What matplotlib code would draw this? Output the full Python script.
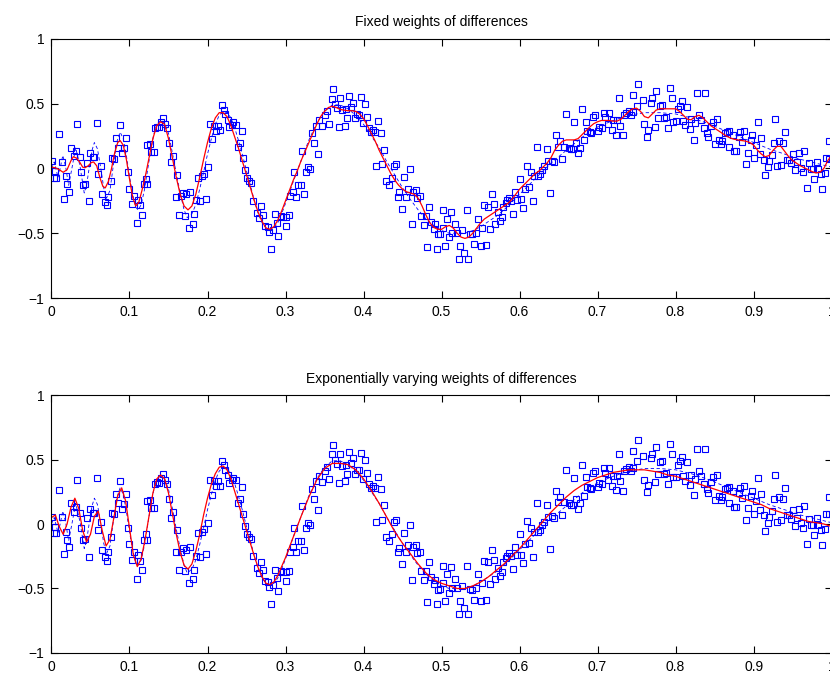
import numpy as np
import matplotlib
matplotlib.use("Agg")
import matplotlib.pyplot as plt

plt.rcParams["font.family"] = ["Liberation Sans", "DejaVu Sans"]
plt.rcParams["font.size"] = 10

# noisy observations (same in both panels)
obs_x = [
    0.001, 0.004, 0.003, 0.006, 0.010, 0.013, 0.016, 0.019, 0.020, 0.023, 0.025, 0.029, 0.031, 0.033,
    0.036, 0.038, 0.040, 0.043, 0.046, 0.048, 0.050, 0.053, 0.055, 0.058, 0.060, 0.063, 0.065, 0.068,
    0.071, 0.073, 0.076, 0.078, 0.080, 0.083, 0.085, 0.088, 0.091, 0.093, 0.096, 0.098, 0.100, 0.103,
    0.106, 0.109, 0.111, 0.113, 0.116, 0.119, 0.122, 0.123,
    0.121, 0.126, 0.128, 0.131, 0.133, 0.135, 0.138, 0.141, 0.143, 0.146, 0.148, 0.151, 0.153, 0.156,
    0.161, 0.159, 0.163, 0.166, 0.168, 0.171, 0.173, 0.178, 0.176, 0.181, 0.183, 0.185, 0.191, 0.198,
    0.188, 0.193, 0.195, 0.201, 0.203, 0.206, 0.208, 0.211, 0.213, 0.216, 0.218, 0.221, 0.223, 0.226,
    0.228, 0.231, 0.233, 0.236, 0.239, 0.242, 0.244, 0.245, 0.248,
    0.251, 0.253, 0.256, 0.258, 0.263, 0.266, 0.269, 0.271, 0.274, 0.277, 0.279, 0.281, 0.284, 0.286,
    0.289, 0.291, 0.294, 0.297, 0.300, 0.301, 0.304, 0.306, 0.309, 0.311, 0.314, 0.316, 0.320, 0.321,
    0.324, 0.326, 0.329, 0.332, 0.334, 0.336, 0.339, 0.341, 0.343, 0.347, 0.350, 0.353, 0.356, 0.359,
    0.361, 0.364, 0.366, 0.369, 0.370, 0.372,
    0.377, 0.379, 0.376, 0.382, 0.384, 0.387, 0.389, 0.392, 0.394, 0.397, 0.399, 0.402, 0.404, 0.407,
    0.410, 0.412, 0.415, 0.419, 0.422, 0.426, 0.416, 0.424, 0.429, 0.432, 0.437, 0.439, 0.441, 0.444,
    0.446, 0.449, 0.452, 0.455, 0.457, 0.459, 0.462, 0.464, 0.467, 0.469, 0.472, 0.474, 0.477, 0.480,
    0.484, 0.481, 0.487, 0.490, 0.492, 0.496, 0.494,
    0.498, 0.502, 0.502, 0.505, 0.507, 0.509, 0.512, 0.514, 0.517, 0.520, 0.522, 0.524, 0.526, 0.529,
    0.532, 0.534, 0.537, 0.539, 0.542, 0.544, 0.547, 0.550, 0.552, 0.555, 0.559, 0.557, 0.562, 0.565,
    0.567, 0.569, 0.572, 0.575, 0.577, 0.579, 0.582, 0.584, 0.587, 0.589, 0.592, 0.594, 0.597, 0.600,
    0.602, 0.604, 0.607, 0.609, 0.612, 0.615, 0.617, 0.619, 0.622,
    0.624, 0.626, 0.629, 0.631, 0.635, 0.637, 0.639, 0.642, 0.644, 0.647, 0.649, 0.652, 0.654, 0.657,
    0.660, 0.663, 0.666, 0.668, 0.670, 0.672, 0.675, 0.677, 0.680, 0.682, 0.685, 0.687, 0.690, 0.692,
    0.694, 0.697, 0.700, 0.702, 0.705, 0.708, 0.710, 0.713, 0.715, 0.718, 0.720, 0.723, 0.725, 0.727,
    0.729, 0.732, 0.734, 0.737, 0.740, 0.743, 0.746,
    0.745, 0.750, 0.752, 0.758, 0.760, 0.763, 0.765, 0.768, 0.770, 0.773, 0.775, 0.777, 0.780, 0.783,
    0.785, 0.788, 0.790, 0.793, 0.795, 0.797, 0.800, 0.803, 0.806, 0.808, 0.810, 0.812, 0.815, 0.818,
    0.820, 0.823, 0.825, 0.828, 0.830, 0.833, 0.836, 0.838, 0.840, 0.842, 0.845, 0.848, 0.850, 0.853,
    0.855, 0.858, 0.860, 0.863, 0.866, 0.868, 0.869,
    0.873, 0.875, 0.878, 0.881, 0.883, 0.888, 0.885, 0.890, 0.893, 0.896, 0.898, 0.900, 0.903, 0.905,
    0.908, 0.910, 0.913, 0.915, 0.918, 0.920, 0.923, 0.926, 0.928, 0.930, 0.933, 0.935, 0.938, 0.940,
    0.943, 0.945, 0.948, 0.950, 0.953, 0.955, 0.958, 0.961, 0.963, 0.965, 0.968, 0.971, 0.973, 0.976,
    0.978, 0.981, 0.983, 0.986, 0.988, 0.991, 0.993, 0.996, 0.997,
]
obs_y = [
    0.056, -0.023, -0.072, -0.072, 0.267, 0.051, -0.233, -0.061, -0.123, -0.182, 0.159, 0.092, 0.133, 0.344,
    0.087, -0.031, -0.126, -0.118, 0.044, -0.254, 0.118, 0.087, 0.087, 0.354, -0.046, 0.015, -0.200, -0.259,
    -0.284, -0.220, -0.100, 0.082, 0.074, 0.233, 0.159, 0.336, 0.118, 0.154, 0.231, -0.028, -0.156, -0.277,
    -0.215, -0.423, -0.241, -0.284, -0.356, -0.123, -0.123, 0.177,
    -0.079, 0.185, 0.126, 0.126, 0.313, 0.323, 0.318, 0.356, 0.390, 0.344, 0.313, 0.195, 0.049, 0.092,
    -0.049, -0.220, -0.356, -0.215, -0.187, -0.367, -0.200, -0.182, -0.456, -0.428, -0.354, -0.246, -0.254, -0.236,
    -0.072, -0.061, -0.041, 0.010, 0.344, 0.228, 0.331, 0.292, 0.331, 0.297, 0.492, 0.454, 0.420, 0.377,
    0.318, 0.338, 0.356, 0.338, 0.164, 0.195, 0.287, 0.080, -0.015,
    -0.074, -0.100, -0.113, -0.251, -0.344, -0.379, -0.292, -0.356, -0.444, -0.451, -0.490, -0.618, -0.472, -0.354,
    -0.420, -0.520, -0.367, -0.374, -0.374, -0.444, -0.361, -0.215, -0.182, -0.028, -0.220, -0.131, -0.131, 0.138,
    -0.200, -0.031, 0.010, -0.005, 0.274, 0.195, 0.331, 0.108, 0.374, 0.328, 0.413, 0.441, 0.346, 0.539,
    0.613, 0.497, 0.467, 0.318, 0.544, 0.451,
    0.459, 0.387, 0.331, 0.562, 0.472, 0.508, 0.387, 0.420, 0.415, 0.549, 0.351, 0.495, 0.395, 0.310,
    0.280, 0.297, 0.282, 0.364, 0.274, 0.144, 0.015, 0.031, -0.100, -0.131, -0.074, 0.018, 0.031, -0.220,
    -0.185, -0.310, -0.067, -0.220, -0.161, -0.008, -0.431, -0.182, -0.164, -0.226, -0.215, -0.367, -0.433, -0.367,
    -0.297, -0.605, -0.413, -0.469, -0.431, -0.508, -0.623,
    -0.503, -0.456, -0.323, -0.597, -0.387, -0.533, -0.336, -0.495, -0.426, -0.497, -0.697, -0.597, -0.477, -0.649,
    -0.323, -0.700, -0.503, -0.508, -0.587, -0.497, -0.387, -0.597, -0.456, -0.284, -0.297, -0.592, -0.469, -0.200,
    -0.277, -0.426, -0.338, -0.405, -0.374, -0.297, -0.264, -0.246, -0.228, -0.251, -0.349, -0.182, -0.241, -0.079,
    -0.238, -0.305, -0.156, 0.021, -0.146, -0.031, -0.254, -0.059, 0.164,
    -0.061, -0.046, -0.010, 0.018, 0.151, 0.056, -0.192, 0.061, 0.049, 0.259, 0.169, 0.208, 0.069, 0.167,
    0.418, 0.159, 0.149, 0.151, 0.356, 0.195, 0.118, 0.159, 0.456, 0.220, 0.361, 0.285, 0.280, 0.274,
    0.395, 0.410, 0.287, 0.321, 0.313, 0.431, 0.395, 0.344, 0.431, 0.297, 0.374, 0.261, 0.374, 0.541,
    0.331, 0.259, 0.413, 0.428, 0.441, 0.413, 0.569,
    0.433, 0.485, 0.651, 0.531, 0.344, 0.246, 0.300, 0.508, 0.541, 0.323, 0.595, 0.387, 0.480, 0.490,
    0.387, 0.395, 0.313, 0.618, 0.541, 0.361, 0.364, 0.459, 0.485, 0.523, 0.369, 0.336, 0.477, 0.305,
    0.382, 0.223, 0.349, 0.582, 0.413, 0.374, 0.308, 0.582, 0.272, 0.241, 0.328, 0.361, 0.185, 0.382,
    0.220, 0.185, 0.208, 0.272, 0.280, 0.285, 0.164,
    0.254, 0.131, 0.131, 0.241, 0.280, 0.292, 0.200, 0.033, 0.121, 0.220, 0.259, 0.080, 0.177, 0.356,
    0.108, 0.233, 0.067, -0.054, 0.010, 0.056, 0.100, 0.195, 0.380, 0.015, 0.208, 0.028, 0.195, 0.280,
    0.067, 0.067, 0.041, 0.108, -0.015, 0.049, 0.118, 0.005, -0.031, 0.138, -0.154, 0.041, -0.005, -0.005,
    -0.084, 0.049, -0.005, -0.046, -0.161, -0.036, 0.080, 0.208, 0.074,
]

# underlying signal (dashed)
true_x = [
    0.000, 0.0035, 0.006, 0.0085, 0.0115, 0.0145, 0.018, 0.022, 0.0265, 0.031, 0.0365, 0.042, 0.045,
    0.0485, 0.052, 0.055, 0.059, 0.063, 0.067, 0.0705, 0.075, 0.079, 0.0835, 0.088, 0.092, 0.096,
    0.100, 0.104, 0.108, 0.111, 0.115, 0.119, 0.123, 0.127, 0.131, 0.135, 0.140, 0.145, 0.150,
    0.155, 0.160, 0.165, 0.170, 0.174, 0.180, 0.185, 0.190, 0.195,
    0.200, 0.205, 0.210, 0.215, 0.220, 0.225, 0.230, 0.235, 0.240, 0.245, 0.250, 0.255, 0.260, 0.265,
    0.270, 0.275, 0.280, 0.285, 0.290, 0.295, 0.300, 0.310, 0.320, 0.330, 0.340, 0.350, 0.360, 0.370,
    0.380, 0.390, 0.400, 0.410, 0.420, 0.430, 0.440, 0.450, 0.460, 0.470, 0.480, 0.490, 0.500, 0.510,
    0.520, 0.530, 0.540, 0.550, 0.560, 0.570, 0.580, 0.590, 0.600, 0.620, 0.640, 0.660, 0.680, 0.700,
    0.720, 0.740, 0.760, 0.780, 0.800, 0.820, 0.840, 0.860, 0.880, 0.900, 0.920, 0.940, 0.960, 0.980,
    1.000,
]
true_y = [
    0.00, 0.05, -0.01, -0.07, 0.01, 0.10, 0.02, -0.13, 0.01, 0.16, 0.02, -0.19, -0.13,
    0.01, 0.14, 0.20, 0.15, 0.01, -0.15, -0.23, -0.17, 0.01, 0.20, 0.28, 0.23, 0.10,
    -0.06, -0.20, -0.30, -0.32, -0.28, -0.17, -0.02, 0.13, 0.26, 0.34, 0.37, 0.35, 0.27,
    0.12, -0.04, -0.19, -0.32, -0.38, -0.35, -0.28, -0.16, -0.03,
    0.11, 0.23, 0.34, 0.41, 0.44, 0.43, 0.39, 0.31, 0.21, 0.10, -0.02, -0.13, -0.25, -0.35,
    -0.42, -0.46, -0.47, -0.46, -0.42, -0.35, -0.27, -0.10, 0.06, 0.22, 0.35, 0.44, 0.49, 0.49,
    0.46, 0.41, 0.34, 0.25, 0.16, 0.05, -0.05, -0.15, -0.24, -0.32, -0.39, -0.44, -0.48, -0.50,
    -0.50, -0.50, -0.48, -0.45, -0.41, -0.37, -0.32, -0.26, -0.20, -0.08, 0.04, 0.14, 0.24, 0.32,
    0.37, 0.41, 0.43, 0.43, 0.42, 0.39, 0.35, 0.30, 0.25, 0.20, 0.15, 0.11, 0.07, 0.04,
    0.01,
]

# estimate with fixed weights of differences
fit1_x = [
    0.000, 0.005, 0.010, 0.015, 0.020, 0.025, 0.028, 0.032, 0.036, 0.040, 0.043, 0.047, 0.051, 0.054,
    0.058, 0.062, 0.066, 0.069, 0.073, 0.077, 0.081, 0.085, 0.088, 0.092, 0.096, 0.100, 0.104, 0.108,
    0.112, 0.116, 0.120, 0.125, 0.130, 0.135, 0.140, 0.145, 0.150, 0.155, 0.160, 0.165, 0.170, 0.175,
    0.180, 0.185, 0.190, 0.195, 0.200, 0.205, 0.210, 0.215, 0.220, 0.225, 0.230, 0.235, 0.240, 0.245,
    0.250, 0.255, 0.260, 0.265, 0.270, 0.275, 0.280, 0.285, 0.290, 0.295, 0.300, 0.305, 0.310, 0.315,
    0.320, 0.325, 0.330, 0.335, 0.340, 0.345, 0.350, 0.355, 0.360, 0.365, 0.370, 0.375, 0.380, 0.385,
    0.390, 0.395, 0.400, 0.405, 0.410, 0.415, 0.420, 0.425, 0.430, 0.435, 0.440, 0.445, 0.450, 0.455,
    0.460, 0.465, 0.470, 0.475, 0.480, 0.485, 0.490, 0.495, 0.500, 0.505, 0.510, 0.515, 0.520, 0.525,
    0.530, 0.535, 0.540, 0.545, 0.550, 0.555, 0.560, 0.565, 0.570, 0.575, 0.580, 0.585, 0.590, 0.595,
    0.600, 0.605, 0.610, 0.615, 0.620, 0.625, 0.630, 0.635, 0.640, 0.645, 0.650, 0.655, 0.660, 0.665,
    0.670, 0.675, 0.680, 0.685, 0.690, 0.695, 0.700, 0.705, 0.710, 0.715, 0.720, 0.725, 0.730, 0.735,
    0.740, 0.745, 0.750, 0.755, 0.760, 0.765, 0.770, 0.775, 0.780, 0.790, 0.800, 0.805, 0.810, 0.815,
    0.820, 0.825, 0.830, 0.835, 0.840, 0.845, 0.850, 0.855, 0.860, 0.865, 0.870, 0.875, 0.880, 0.885,
    0.890, 0.895, 0.900, 0.905, 0.910, 0.915, 0.920, 0.925, 0.930, 0.935, 0.940, 0.945, 0.950, 0.955,
    0.960, 0.965, 0.970, 0.975, 0.980, 0.985, 0.990, 0.995, 1.000,
]
fit1_y = [
    0.01, 0.005, -0.01, -0.03, -0.01, 0.06, 0.09, 0.08, 0.05, 0.01, 0.005, 0.02, 0.045, 0.05,
    0.02, -0.07, -0.14, -0.15, -0.10, 0.00, 0.12, 0.20, 0.215, 0.18, 0.07, -0.08, -0.22, -0.29,
    -0.26, -0.17, -0.07, 0.08, 0.23, 0.33, 0.36, 0.34, 0.23, 0.08, -0.07, -0.20, -0.29, -0.32,
    -0.29, -0.20, -0.07, 0.07, 0.20, 0.31, 0.39, 0.43, 0.43, 0.40, 0.33, 0.24, 0.15, 0.05,
    -0.05, -0.15, -0.25, -0.34, -0.41, -0.46, -0.47, -0.45, -0.40, -0.33, -0.25, -0.17, -0.09, -0.02,
    0.06, 0.13, 0.20, 0.27, 0.34, 0.40, 0.44, 0.47, 0.48, 0.47, 0.455, 0.45, 0.445, 0.445,
    0.44, 0.42, 0.385, 0.33, 0.27, 0.21, 0.14, 0.08, 0.02, -0.04, -0.09, -0.13, -0.16, -0.18,
    -0.19, -0.20, -0.23, -0.29, -0.36, -0.42, -0.455, -0.47, -0.47, -0.45, -0.44, -0.46, -0.50, -0.53,
    -0.54, -0.53, -0.50, -0.46, -0.42, -0.39, -0.37, -0.35, -0.33, -0.31, -0.29, -0.27, -0.24, -0.20,
    -0.16, -0.13, -0.10, -0.07, -0.04, -0.02, 0.01, 0.04, 0.08, 0.14, 0.18, 0.21, 0.22, 0.22,
    0.22, 0.23, 0.26, 0.29, 0.32, 0.345, 0.36, 0.37, 0.37, 0.37, 0.365, 0.365, 0.38, 0.41,
    0.44, 0.46, 0.465, 0.44, 0.40, 0.39, 0.42, 0.45, 0.46, 0.46, 0.46, 0.44, 0.41, 0.38,
    0.375, 0.40, 0.41, 0.39, 0.36, 0.33, 0.31, 0.29, 0.27, 0.25, 0.235, 0.225, 0.22, 0.215,
    0.21, 0.20, 0.18, 0.14, 0.11, 0.09, 0.10, 0.14, 0.17, 0.17, 0.13, 0.09, 0.06, 0.04,
    0.02, 0.005, -0.01, -0.025, -0.035, -0.03, 0.00, 0.06, 0.10,
]

# estimate with exponentially varying weights of differences
fit2_x = [
    0.000, 0.005, 0.010, 0.015, 0.020, 0.025, 0.030, 0.035, 0.040, 0.045, 0.050, 0.055, 0.060, 0.065,
    0.070, 0.075, 0.080, 0.085, 0.090, 0.095, 0.100, 0.105, 0.110, 0.115, 0.120, 0.125, 0.130, 0.135,
    0.140, 0.145, 0.150, 0.155, 0.160, 0.165, 0.170, 0.175, 0.180, 0.185, 0.190, 0.195, 0.200, 0.205,
    0.210, 0.215, 0.220, 0.225, 0.230, 0.235, 0.240, 0.245, 0.250, 0.255, 0.260, 0.265, 0.270, 0.275,
    0.280, 0.285, 0.290, 0.295, 0.300, 0.310, 0.320, 0.330, 0.340, 0.350, 0.360, 0.370, 0.380, 0.390,
    0.400, 0.410, 0.420, 0.430, 0.440, 0.450, 0.460, 0.470, 0.480, 0.490, 0.500, 0.510, 0.520, 0.530,
    0.540, 0.550, 0.560, 0.570, 0.580, 0.590, 0.600, 0.610, 0.620, 0.630, 0.640, 0.650, 0.660, 0.670,
    0.680, 0.690, 0.700, 0.710, 0.720, 0.730, 0.740, 0.750, 0.760, 0.770, 0.780, 0.790, 0.800, 0.810,
    0.820, 0.830, 0.840, 0.850, 0.860, 0.870, 0.880, 0.890, 0.900, 0.910, 0.920, 0.930, 0.940, 0.950,
    0.960, 0.970, 0.980, 0.990, 1.000,
]
fit2_y = [
    0.05, 0.07, -0.02, -0.08, 0.00, 0.13, 0.20, 0.12, -0.05, -0.14, -0.08, 0.06, 0.10, -0.05,
    -0.17, -0.12, 0.05, 0.22, 0.28, 0.18, -0.03, -0.24, -0.33, -0.27, -0.12, 0.06, 0.24, 0.35,
    0.38, 0.35, 0.24, 0.08, -0.08, -0.22, -0.32, -0.35, -0.31, -0.21, -0.08, 0.07, 0.20, 0.31,
    0.39, 0.44, 0.45, 0.42, 0.35, 0.25, 0.15, 0.05, -0.05, -0.15, -0.25, -0.34, -0.41, -0.46,
    -0.47, -0.45, -0.40, -0.33, -0.26, -0.10, 0.06, 0.21, 0.34, 0.43, 0.47, 0.47, 0.46, 0.42,
    0.35, 0.26, 0.16, 0.05, -0.06, -0.15, -0.23, -0.31, -0.38, -0.43, -0.46, -0.48, -0.50, -0.50,
    -0.48, -0.45, -0.41, -0.36, -0.31, -0.25, -0.19, -0.12, -0.05, 0.02, 0.09, 0.15, 0.21, 0.26,
    0.30, 0.33, 0.36, 0.38, 0.40, 0.41, 0.42, 0.42, 0.42, 0.41, 0.40, 0.38, 0.37, 0.35,
    0.33, 0.31, 0.29, 0.27, 0.25, 0.23, 0.21, 0.19, 0.17, 0.15, 0.12, 0.10, 0.08, 0.06,
    0.04, 0.02, 0.01, 0.00, -0.02,
]

titles = ["Fixed weights of differences", "Exponentially varying weights of differences"]
fits = [(fit1_x, fit1_y), (fit2_x, fit2_y)]

xticks = np.arange(0, 1.01, 0.1)
xtick_labels = ["0", "0.1", "0.2", "0.3", "0.4", "0.5", "0.6", "0.7", "0.8", "0.9", "1"]
yticks = [-1, -0.5, 0, 0.5, 1]
ytick_labels = ["\u22121", "\u22120.5", "0", "0.5", "1"]

fig = plt.figure(figsize=(8.3, 6.75), dpi=100)
boxes = [[0.062, 0.5585, 0.940, 0.384], [0.062, 0.0326, 0.940, 0.3822]]

for box, title, (fx, fy) in zip(boxes, titles, fits):
    ax = fig.add_axes(box)
    ax.plot(obs_x, obs_y, "s", markersize=4.3, markerfacecolor="none",
            markeredgecolor="blue", markeredgewidth=0.8)
    ax.plot(true_x, true_y, color="blue", linewidth=0.6, dashes=(4, 3))
    ax.plot(fx, fy, "-", color="red", linewidth=0.9)
    ax.set_xlim(0, 1)
    ax.set_ylim(-1, 1)
    ax.set_xticks(xticks)
    ax.set_xticklabels(xtick_labels)
    ax.set_yticks(yticks)
    ax.set_yticklabels(ytick_labels)
    ax.tick_params(direction="in", length=5, width=0.8, top=True, right=True, labelsize=10, pad=5)
    for s in ax.spines.values():
        s.set_linewidth(0.8)
    ax.set_title(title, fontsize=10, pad=9)

fig.savefig("out.png", dpi=100)
